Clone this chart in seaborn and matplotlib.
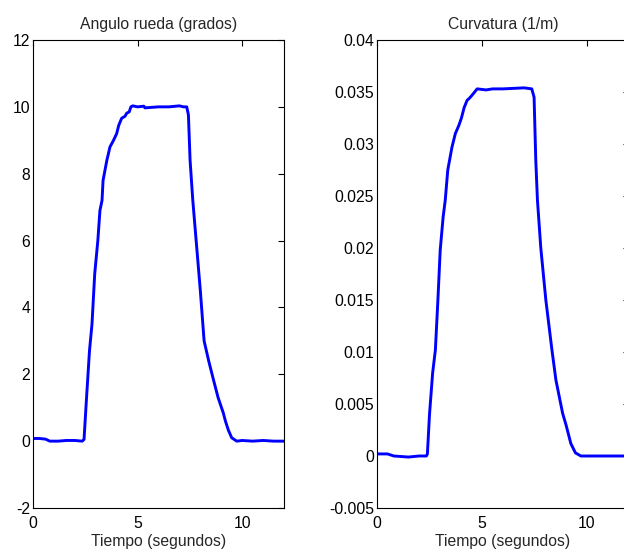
import matplotlib
matplotlib.use("Agg")
import matplotlib.pyplot as plt
import seaborn as sns
import pandas as pd
from matplotlib.ticker import FuncFormatter

# ---- data ----
t_angle = [0.0, 0.3, 0.6, 0.8, 1.2, 1.6, 2.0, 2.35, 2.44, 2.55, 2.7, 2.82, 2.95, 3.1, 3.2,
           3.3, 3.35, 3.53, 3.68, 3.85, 4.0, 4.1, 4.24, 4.4, 4.48, 4.6, 4.68, 4.77, 5.0,
           5.3, 5.35, 6.0, 6.5, 7.0, 7.2, 7.35, 7.43, 7.51, 7.64, 7.8, 8.0, 8.18, 8.4,
           8.63, 8.85, 9.1, 9.2, 9.34, 9.5, 9.74, 10.0, 10.5, 11.0, 11.5, 12.0]
angle = [0.08, 0.08, 0.06, 0.0, 0.0, 0.02, 0.02, 0.0, 0.05, 1.2, 2.7, 3.5, 5.0, 6.0, 6.9,
         7.2, 7.8, 8.4, 8.8, 9.0, 9.2, 9.45, 9.66, 9.72, 9.81, 9.85, 10.0, 10.03, 10.0,
         10.02, 9.97, 10.0, 10.0, 10.03, 10.0, 10.0, 9.76, 8.4, 7.2, 6.0, 4.5, 3.0, 2.4,
         1.83, 1.3, 0.84, 0.6, 0.33, 0.1, 0.0, 0.02, 0.0, 0.02, 0.0, 0.0]

t_curv = [0.0, 0.5, 0.8, 1.5, 2.0, 2.35, 2.4, 2.5, 2.65, 2.78, 2.9, 3.01, 3.15, 3.25, 3.37,
          3.57, 3.73, 3.9, 4.02, 4.15, 4.29, 4.4, 4.53, 4.65, 4.77, 5.2, 5.5, 6.0, 7.0,
          7.37, 7.48, 7.56, 7.64, 7.8, 8.04, 8.33, 8.52, 8.84, 9.0, 9.23, 9.45, 9.71,
          10.0, 11.0, 12.0]
curv = [0.0002, 0.0002, 0.0, -0.0001, 0.0, 0.0, 0.0002, 0.004, 0.008, 0.0102, 0.015,
        0.0198, 0.023, 0.0246, 0.0275, 0.0297, 0.031, 0.0318, 0.0325, 0.0335, 0.0342,
        0.0344, 0.0347, 0.035, 0.0353, 0.0352, 0.0353, 0.0353, 0.0354, 0.0353, 0.0345,
        0.0285, 0.0246, 0.02, 0.015, 0.0102, 0.0073, 0.0041, 0.003, 0.0012, 0.0003, 0.0,
        0.0, 0.0, 0.0]

titles = ["Angulo rueda (grados)", "Curvatura (1/m)"]
xlabel = "Tiempo (segundos)"
x_ticks = [0, 5, 10]
angle_ticks = [-2, 0, 2, 4, 6, 8, 10, 12]
curv_ticks = [-0.005, 0, 0.005, 0.01, 0.015, 0.02, 0.025, 0.03, 0.035, 0.04]

sns.set_style("white")
plt.rcParams["font.family"] = ["Liberation Sans", "DejaVu Sans"]
plt.rcParams["axes.unicode_minus"] = False

df_a = pd.DataFrame({"t": t_angle, "v": angle})
df_c = pd.DataFrame({"t": t_curv, "v": curv})

fig = plt.figure(figsize=(6.24, 5.5), dpi=100)
ax1 = fig.add_axes([33 / 624, 42 / 550, 251 / 624, 468 / 550])
ax2 = fig.add_axes([377 / 624, 42 / 550, 252 / 624, 468 / 550])

for ax, df, title, yt, ylim in [
    (ax1, df_a, titles[0], angle_ticks, (-2, 12)),
    (ax2, df_c, titles[1], curv_ticks, (-0.005, 0.04)),
]:
    sns.lineplot(data=df, x="t", y="v", ax=ax, color="#0000FF", linewidth=2.1,
                 estimator=None, sort=False)
    ax.set_xlim(0, 12)
    ax.set_ylim(*ylim)
    ax.set_xticks(x_ticks)
    ax.set_yticks(yt)
    ax.yaxis.set_major_formatter(FuncFormatter(lambda v, p: "%g" % round(v, 6)))
    ax.set_title(title, fontsize=11.3, pad=8)
    ax.set_xlabel(xlabel, fontsize=11.3, labelpad=2)
    ax.set_ylabel("")
    ax.tick_params(direction="in", length=4, width=0.8, labelsize=11.3,
                   top=True, right=True, colors="black")
    ax.tick_params(axis="x", pad=6)
    ax.tick_params(axis="y", pad=2)
    for s in ax.spines.values():
        s.set_visible(True)
        s.set_color("black")
        s.set_linewidth(0.8)

fig.savefig("out.png", dpi=100, facecolor="white")
